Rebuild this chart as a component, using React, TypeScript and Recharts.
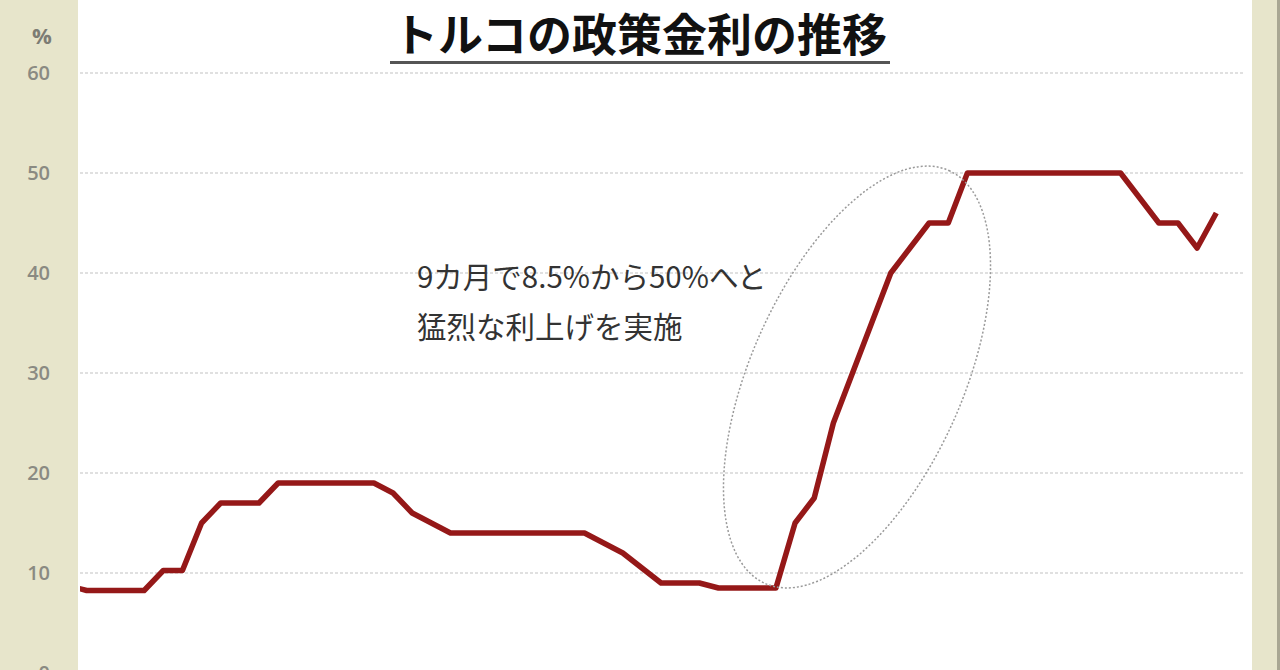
import { CartesianGrid, Line, LineChart, XAxis, YAxis } from "recharts";

// monthly policy rate, Apr 2020 - Apr 2025
const months = [
  "2020-04", "2020-05", "2020-06", "2020-07", "2020-08", "2020-09", "2020-10", "2020-11", "2020-12",
  "2021-01", "2021-02", "2021-03", "2021-04", "2021-05", "2021-06", "2021-07", "2021-08", "2021-09",
  "2021-10", "2021-11", "2021-12", "2022-01", "2022-02", "2022-03", "2022-04", "2022-05", "2022-06",
  "2022-07", "2022-08", "2022-09", "2022-10", "2022-11", "2022-12", "2023-01", "2023-02", "2023-03",
  "2023-04", "2023-05", "2023-06", "2023-07", "2023-08", "2023-09", "2023-10", "2023-11", "2023-12",
  "2024-01", "2024-02", "2024-03", "2024-04", "2024-05", "2024-06", "2024-07", "2024-08", "2024-09",
  "2024-10", "2024-11", "2024-12", "2025-01", "2025-02", "2025-03", "2025-04",
];

const rates = [
  8.75, 8.25, 8.25, 8.25, 8.25, 10.25, 10.25, 15, 17,
  17, 17, 19, 19, 19, 19, 19, 19, 18,
  16, 15, 14, 14, 14, 14, 14, 14, 14,
  14, 13, 12, 10.5, 9, 9, 9, 8.5, 8.5,
  8.5, 8.5, 15, 17.5, 25, 30, 35, 40, 42.5,
  45, 45, 50, 50, 50, 50, 50, 50, 50,
  50, 50, 47.5, 45, 45, 42.5, 46,
];

const yTicks = [0, 10, 20, 30, 40, 50, 60];

const data = months.map((m, i) => ({ month: m, i: i - 1, rate: rates[i] }));

const jp = '"Noto Sans CJK JP", "Noto Sans", sans-serif';
const num = '"Open Sans", "DejaVu Sans", sans-serif';

const App = () => {
  return (
    <div
      style={{
        position: "absolute",
        left: 0,
        top: 0,
        width: 1280,
        height: 690,
        overflow: "hidden",
        background: "#e7e5cb",
      }}
    >
      <div style={{ position: "absolute", left: 78, top: 0, width: 1174, height: 690, background: "#ffffff" }} />
      <div style={{ position: "absolute", left: 1277, top: 0, width: 3, height: 690, background: "#a9a793" }} />

      <div style={{ position: "absolute", left: 0, top: 0 }}>
        <LineChart width={1280} height={690} data={data} margin={{ top: 73, right: 35, bottom: 17, left: 0 }}>
          <CartesianGrid vertical={false} stroke="#d6d6d6" strokeDasharray="3 2" strokeWidth={1.5} />
          <XAxis type="number" dataKey="i" domain={[-0.35, 60.5]} allowDataOverflow hide />
          <YAxis
            type="number"
            domain={[0, 60]}
            ticks={yTicks}
            width={80}
            axisLine={false}
            tickLine={false}
            tickMargin={24}
            tick={{ fill: "#8a8a82", fontSize: 20, fontWeight: 600, fontFamily: num }}
          />
          <Line
            type="linear"
            dataKey="rate"
            stroke="#951818"
            strokeWidth={5.5}
            strokeLinejoin="round"
            dot={false}
            activeDot={false}
            isAnimationActive={false}
          />
        </LineChart>
      </div>

      <div
        style={{
          position: "absolute",
          left: 0,
          top: 21,
          width: 84,
          textAlign: "center",
          fontFamily: num,
          fontWeight: 700,
          fontSize: 22,
          color: "#7c7c74",
          lineHeight: "28px",
        }}
      >
        %
      </div>

      <div
        style={{
          position: "absolute",
          left: 340,
          top: 4,
          width: 600,
          textAlign: "center",
          fontFamily: jp,
          fontWeight: 700,
          fontSize: 45,
          lineHeight: "58px",
          color: "#111111",
        }}
      >
        トルコの政策金利の推移
      </div>
      <div style={{ position: "absolute", left: 390, top: 61, width: 500, height: 3, background: "#555555" }} />

      <div
        style={{
          position: "absolute",
          left: 417,
          top: 250,
          fontFamily: jp,
          fontSize: 29.5,
          lineHeight: "50px",
          color: "#333333",
          whiteSpace: "nowrap",
        }}
      >
        <div>9カ月で8.5%から50%へと</div>
        <div>猛烈な利上げを実施</div>
      </div>

      <svg style={{ position: "absolute", left: 0, top: 0 }} width={1280} height={690}>
        <ellipse
          cx={857}
          cy={377}
          rx={226}
          ry={106}
          transform="rotate(-66 857 377)"
          fill="none"
          stroke="#9a9a9a"
          strokeWidth={1.5}
          strokeDasharray="2 2"
        />
      </svg>
    </div>
  );
};

export default App;
